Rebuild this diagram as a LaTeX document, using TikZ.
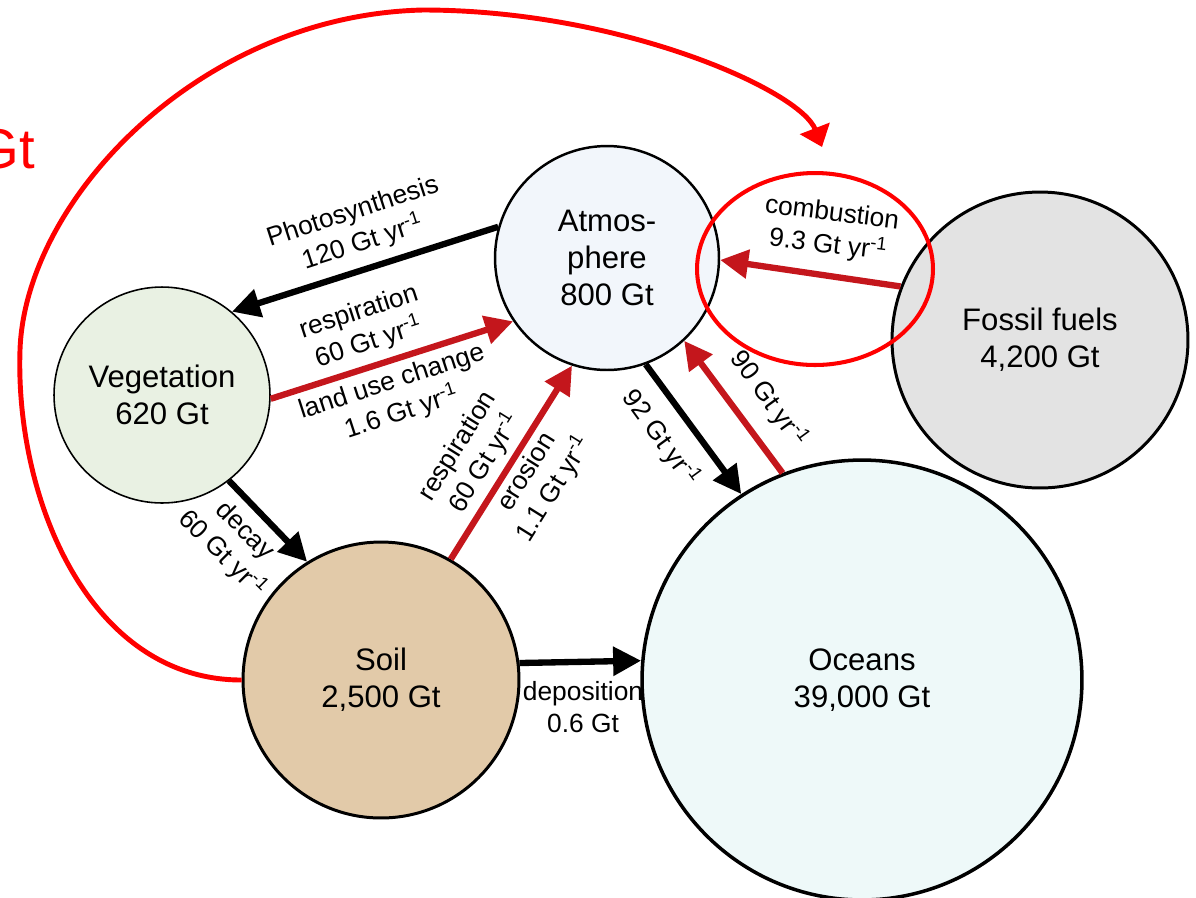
\documentclass[tikz,border=0pt]{standalone}
\usepackage{fontspec}
\setmainfont{Liberation Sans}
\usetikzlibrary{arrows.meta}

\definecolor{atmfill}{HTML}{F2F6FB}
\definecolor{vegfill}{HTML}{E9F1E3}
\definecolor{fosfill}{HTML}{E3E3E3}
\definecolor{soilfill}{HTML}{E2CAA9}
\definecolor{ocefill}{HTML}{EEF9F9}
\definecolor{flowred}{HTML}{C4161C}
\newcommand{\yrinv}{yr\textsuperscript{-1}}

\begin{document}
\begin{tikzpicture}[x=0.02cm, y=-0.02cm,
		pool/.style={circle, draw=black, inner sep=0pt, align=center, font=\fontsize{17.7}{21}\selectfont},
		flow/.style={line width=3.6pt, -{Triangle[length=0.56cm, width=0.56cm]}},
		flowlabel/.style={align=center, inner sep=0pt, font=\fontsize{15}{18.5}\selectfont}]
		\useasboundingbox (0, 0) rectangle (1196, 897);
		% the carbon pools
		\node [pool, fill=vegfill, line width=0.9pt, minimum size=4.32cm] (veg) at (162, 395) {Vegetation\\620 Gt};
		\node [pool, fill=atmfill, line width=1.4pt, minimum size=4.48cm] (atm) at (607, 258) {Atmos-\\phere\\800 Gt};
		\node [pool, fill=fosfill, line width=1.7pt, minimum size=5.92cm] (fos) at (1040, 340) {Fossil fuels\\4,200 Gt};
		\node [pool, fill=soilfill, line width=1.7pt, minimum size=5.52cm] (soil) at (381, 680) {Soil\\2,500 Gt};
		% deposition label sits under the ocean disc
		\node [flowlabel] (ldepo) at (583, 707) {deposition\\0.6 Gt};
		\node [pool, fill=ocefill, line width=2pt, minimum size=8.8cm] (oce) at (862, 680) {Oceans\\39,000 Gt};
		% fluxes
		\draw [flow] (atm.164) -- (veg.50);
		\draw [flow, flowred] (veg.-2) -- (atm.214);
		\draw [flow] (veg.-52) -- (soil.122);
		\draw [flow, flowred] (soil.60) -- (atm.-108);
		\draw [flow] (atm.-70) -- (oce.123);
		\draw [flow, flowred] (oce.111) -- (atm.-47);
		\draw [flow, flowred] (fos.159) -- (atm.-1);
		\draw [flow] (soil.7) -- (oce.175);
		% flux labels
		\node [flowlabel, rotate=18] (lphoto) at (358, 228) {Photosynthesis\\120 Gt \yrinv};
		\node [flowlabel, rotate=18] (lresp) at (364, 328) {respiration\\60 Gt \yrinv};
		\node [flowlabel, rotate=18] (lland) at (397, 398) {land use change\\1.6 Gt \yrinv};
		\node [flowlabel, rotate=-45] (ldecay) at (233, 543) {decay\\60 Gt \yrinv};
		\node [flowlabel, rotate=58] (lsresp) at (472, 455) {respiration\\60 Gt \yrinv};
		\node [flowlabel, rotate=58] (lerosion) at (541, 481) {erosion\\1.1 Gt \yrinv};
		\node [flowlabel, rotate=-54] (ldown) at (661, 438) {92 Gt \yrinv};
		\node [flowlabel, rotate=-54] (lup) at (769, 399) {90 Gt \yrinv};
		\node [flowlabel, rotate=-7] (lcomb) at (830, 230) {combustion\\9.3 Gt \yrinv};
		% red highlight round the combustion flux
		\draw [red, line width=2.3pt] (815, 269) ellipse [x radius=2.36cm, y radius=1.92cm];
		% red loop from the soil to the highlight
		\coordinate (ctip) at (822, 147);
		\draw [red, line width=2.8pt, -{Triangle[length=0.4cm, width=0.62cm]}] (soil.180) .. controls (90, 680) and (15, 500) .. (20, 350) .. controls (25, 200) and (200, 15) .. (423, 10) .. controls (620, 10) and (800, 90) .. (ctip);
		\node [red, anchor=base east, inner sep=0pt, font=\fontsize{32}{36}\selectfont] (gt) at (35, 168) {Gt};
	\end{tikzpicture}
\end{document}
